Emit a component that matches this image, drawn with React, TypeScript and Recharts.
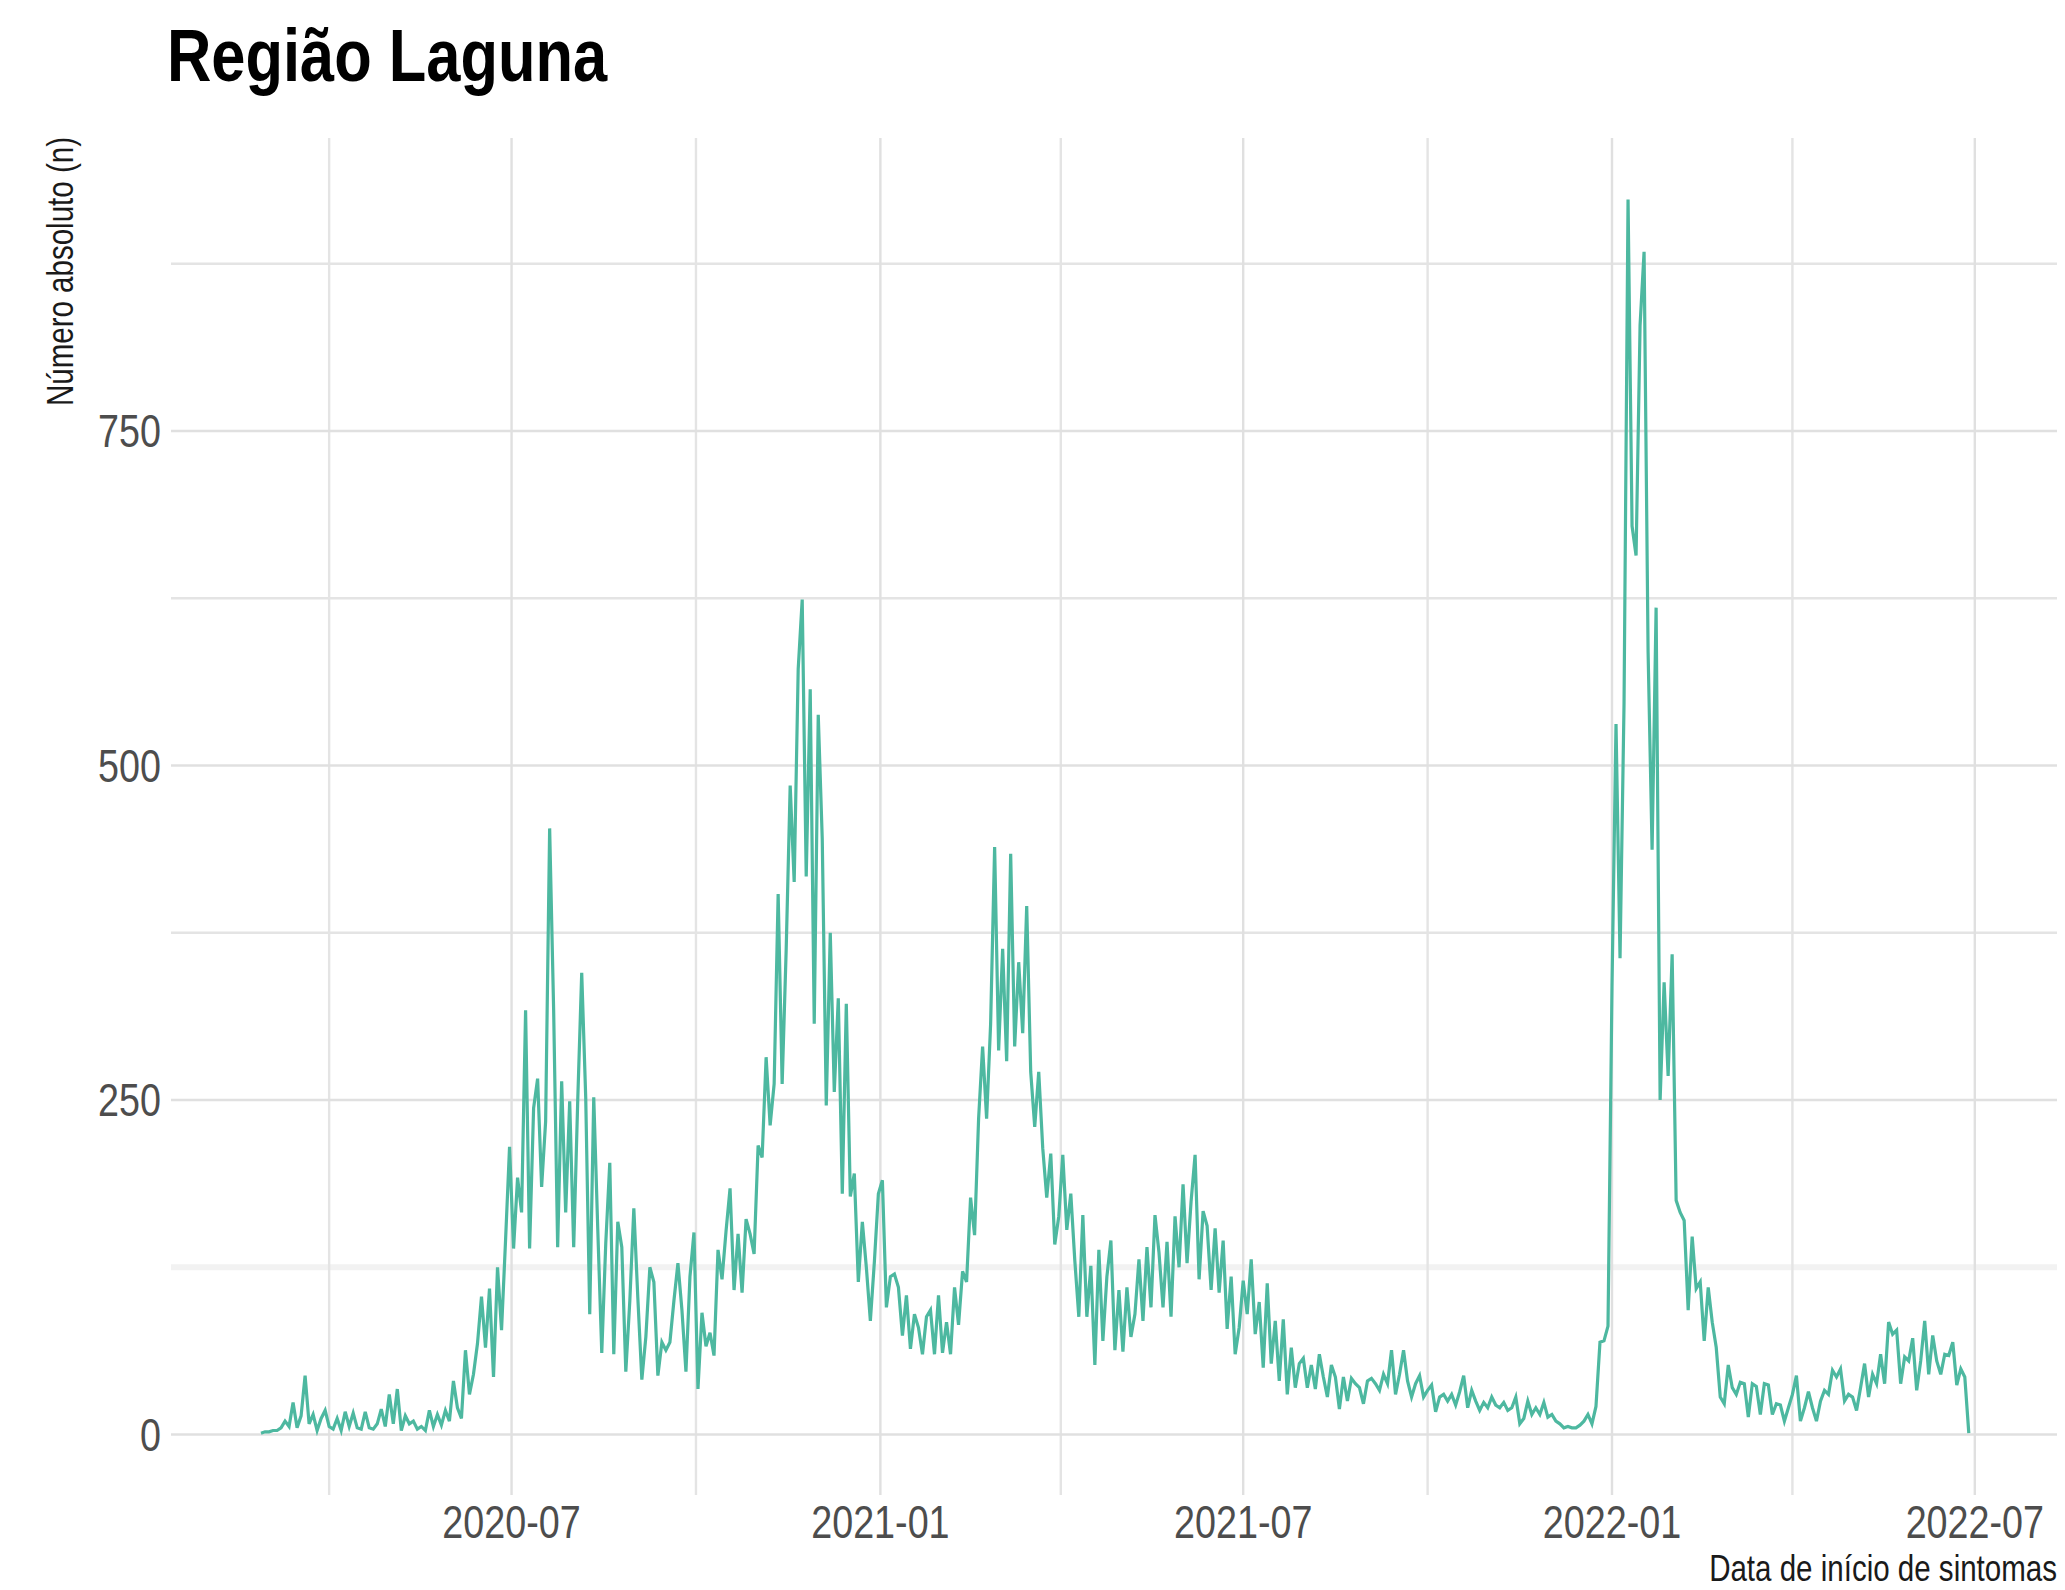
import React from "react";
import { LineChart, Line, XAxis, YAxis, ReferenceLine } from "recharts";

const DAY_MS = 86400000;
const FIRST_DAY = "2020-02-27";
const STEP_DAYS = 2;

// casos por data de início de sintomas (lidos a cada 2 dias)
const casos = [
  1, 2, 2, 3, 3, 5, 10, 6, 24, 5,
  14, 44, 8, 15, 3, 12, 18, 6, 4, 12,
  3, 17, 6, 16, 5, 4, 17, 5, 4, 8,
  19, 6, 30, 8, 34, 3, 14, 8, 10, 4,
  6, 3, 18, 6, 15, 7, 18, 10, 40, 20,
  12, 63, 30, 45, 68, 103, 65, 109, 43, 125,
  78, 145, 215, 139, 192, 166, 317, 139, 244, 266,
  185, 234, 453, 317, 140, 264, 166, 249, 140, 249,
  345, 252, 90, 252, 154, 61, 143, 203, 60, 159,
  140, 47, 100, 169, 102, 41, 73, 125, 114, 44,
  69, 63, 69, 100, 128, 93, 47, 118, 151, 34,
  91, 66, 76, 59, 138, 116, 152, 184, 108, 150,
  106, 161, 150, 135, 216, 207, 282, 231, 262, 404,
  262, 362, 485, 413, 572, 624, 417, 557, 307, 538,
  445, 246, 375, 256, 326, 180, 322, 178, 195, 114,
  159, 125, 85, 129, 180, 190, 95, 118, 120, 110,
  74, 104, 64, 90, 80, 60, 88, 93, 60, 104,
  61, 84, 60, 110, 82, 122, 114, 177, 149, 236,
  290, 236, 307, 439, 287, 363, 279, 434, 290, 353,
  300, 395, 271, 230, 271, 214, 177, 210, 142, 163,
  209, 153, 180, 130, 88, 164, 88, 126, 52, 138,
  70, 118, 145, 63, 108, 62, 110, 73, 90, 131,
  85, 140, 95, 164, 136, 95, 144, 88, 163, 125,
  187, 128, 174, 209, 116, 167, 156, 108, 154, 106,
  145, 79, 118, 60, 80, 115, 90, 131, 75, 99,
  50, 113, 53, 85, 40, 86, 30, 65, 35, 53,
  57, 35, 52, 34, 60, 43, 28, 52, 43, 19,
  43, 25, 42, 38, 35, 23, 40, 42, 38, 33,
  45, 38, 63, 30, 45, 63, 40, 28, 38, 44,
  28, 33, 37, 17, 28, 30, 25, 30, 22, 32,
  44, 20, 33, 25, 18, 24, 20, 28, 22, 20,
  24, 18, 20, 28, 8, 12, 25, 15, 20, 15,
  24, 13, 15, 10, 8, 5, 6, 5, 5, 7,
  10, 15, 8, 21, 69, 70, 81, 335, 531, 356,
  546, 923, 679, 657, 829, 884, 585, 437, 618, 250,
  338, 268, 359, 175, 166, 160, 93, 148, 109, 114,
  70, 110, 84, 65, 28, 23, 52, 35, 30, 39,
  38, 13, 38, 36, 15, 38, 37, 15, 23, 22,
  10, 20, 30, 44, 10, 20, 32, 20, 10, 25,
  33, 30, 48, 43, 49, 25, 30, 28, 18, 35,
  53, 28, 45, 38, 60, 38, 84, 75, 78, 38,
  58, 55, 72, 33, 55, 85, 45, 74, 55, 45,
  60, 59, 69, 37, 49, 43, 1,
];

const xTickDates = ["2020-07-01", "2021-01-01", "2021-07-01", "2022-01-01", "2022-07-01"];
const xTickLabels = ["2020-07", "2021-01", "2021-07", "2022-01", "2022-07"];
const xMinorDates = ["2020-04-01", "2020-10-01", "2021-04-01", "2021-10-01", "2022-04-01"];
const yTicks = [0, 250, 500, 750];
const yMinorTicks = [375, 625, 875];
const yMinorLightTicks = [125];

const toMs = (d: string) => Date.parse(d + "T00:00:00Z");

const start = toMs(FIRST_DAY);
const data = casos.map((n, i) => ({ t: start + i * STEP_DAYS * DAY_MS, n }));

const xTicks = xTickDates.map(toMs);
const xMinor = xMinorDates.map(toMs);
const xDomain = [toMs("2020-07-01") - 169.9 * DAY_MS, toMs("2022-07-01") + 41 * DAY_MS];
const yDomain = [-45.2, 969];

// Arial Narrow is not available: Liberation Sans squeezed to 82% width
const FONT = "'Liberation Sans', Arial, sans-serif";
const NARROW = 0.82;
const TICK_SIZE = 46;
const TICK_COLOR = "#4d4d4d";
const GRID = "#e0e0e0";
const GRID_MINOR = "#e4e4e4";

const XTick = (props: any) => {
  const { x, y, payload } = props;
  const label = xTickLabels[xTicks.indexOf(payload.value)] ?? "";
  return (
    <g transform={`translate(${x},${y})`}>
      <text
        transform={`scale(${NARROW},1)`}
        textAnchor="middle"
        dy="0.71em"
        fontFamily={FONT}
        fontSize={TICK_SIZE}
        fill={TICK_COLOR}
      >
        {label}
      </text>
    </g>
  );
};

const YTick = (props: any) => {
  const { x, y, payload } = props;
  return (
    <g transform={`translate(${x},${y})`}>
      <text
        transform={`scale(${NARROW},1)`}
        textAnchor="end"
        dy="0.355em"
        fontFamily={FONT}
        fontSize={TICK_SIZE}
        fill={TICK_COLOR}
      >
        {payload.value}
      </text>
    </g>
  );
};

export default function App() {
  return (
    <div
      style={{
        position: "absolute",
        left: 0,
        top: 0,
        width: 2065,
        height: 1590,
        background: "#fff",
        overflow: "hidden",
        fontFamily: FONT,
      }}
    >
      <div
        style={{
          position: "absolute",
          left: 167,
          top: 19,
          fontSize: 74,
          lineHeight: "74px",
          fontWeight: 700,
          color: "#000",
          whiteSpace: "nowrap",
          transformOrigin: "0 0",
          transform: "scaleX(0.83)",
        }}
      >
        Região Laguna
      </div>

      <LineChart width={2065} height={1590} data={data} margin={{ top: 138, right: 8, bottom: 0, left: 0 }}>
        {/* grade: linhas secundárias primeiro, depois as principais */}
        {yMinorLightTicks.map((v) => (
          <ReferenceLine key={`ly${v}`} xAxisId="main" yAxisId="main" y={v} stroke="#f2f2f2" strokeWidth={6} />
        ))}
        {yMinorTicks.map((v) => (
          <ReferenceLine key={`hy${v}`} xAxisId="main" yAxisId="main" y={v} stroke={GRID_MINOR} strokeWidth={2.4} />
        ))}
        {xMinor.map((v) => (
          <ReferenceLine key={`vx${v}`} xAxisId="main" yAxisId="main" x={v} stroke={GRID_MINOR} strokeWidth={2.4} />
        ))}
        {yTicks.map((v) => (
          <ReferenceLine key={`my${v}`} xAxisId="main" yAxisId="main" y={v} stroke={GRID} strokeWidth={2.4} />
        ))}
        {xTicks.map((v) => (
          <ReferenceLine key={`mx${v}`} xAxisId="main" yAxisId="main" x={v} stroke={GRID} strokeWidth={2.4} />
        ))}

        <XAxis
          xAxisId="main"
          type="number"
          dataKey="t"
          domain={xDomain}
          ticks={xTicks}
          interval={0}
          allowDataOverflow
          tick={<XTick />}
          tickLine={false}
          axisLine={false}
          tickSize={5}
          tickMargin={5}
          height={95}
        />
        <YAxis
          yAxisId="main"
          type="number"
          domain={yDomain}
          ticks={yTicks}
          interval={0}
          allowDataOverflow
          tick={<YTick />}
          tickLine={false}
          axisLine={false}
          tickSize={5}
          tickMargin={5}
          width={171}
        />

        <Line
          xAxisId="main"
          yAxisId="main"
          type="linear"
          dataKey="n"
          stroke="#4DB8A0"
          strokeWidth={3.2}
          dot={false}
          isAnimationActive={false}
        />
      </LineChart>

      {/* títulos dos eixos, no estilo hrbrthemes */}
      <div
        style={{
          position: "absolute",
          left: 0,
          top: 0,
          width: 400,
          fontSize: 36,
          lineHeight: "36px",
          textAlign: "right",
          color: "#1a1a1a",
          whiteSpace: "nowrap",
          transformOrigin: "0 0",
          transform: `translate(43px, ${137 + 400 * NARROW}px) rotate(-90deg) scaleX(${NARROW})`,
        }}
      >
        Número absoluto (n)
      </div>
      <div
        style={{
          position: "absolute",
          left: 1357,
          top: 1554,
          width: 700,
          fontSize: 36,
          lineHeight: "30px",
          textAlign: "right",
          color: "#1a1a1a",
          whiteSpace: "nowrap",
          transformOrigin: "100% 0",
          transform: `scaleX(${NARROW})`,
        }}
      >
        Data de início de sintomas
      </div>
    </div>
  );
}
